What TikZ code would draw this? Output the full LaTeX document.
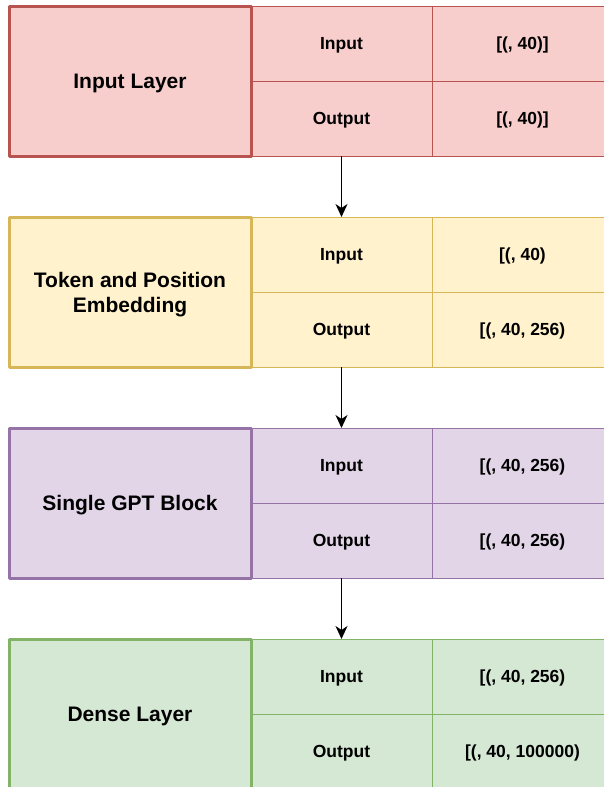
\documentclass[tikz,border=0pt]{standalone}
\usepackage{fontspec}
\setmainfont{Liberation Sans}
\usetikzlibrary{arrows.meta}
\definecolor{redfill}{HTML}{F8CECC}
\definecolor{redline}{HTML}{B85450}
\definecolor{yellowfill}{HTML}{FFF2CC}
\definecolor{yellowline}{HTML}{D6B656}
\definecolor{purplefill}{HTML}{E1D5E7}
\definecolor{purpleline}{HTML}{9673A6}
\definecolor{greenfill}{HTML}{D5E8D4}
\definecolor{greenline}{HTML}{82B366}
\tikzset{
	layer/.style={draw, line width=3pt, minimum width=242pt, minimum height=150pt, inner sep=0pt, outer sep=0pt, text depth=0pt, align=center, font=\bfseries\fontsize{21}{25}\selectfont},
	cell/.style={draw, line width=1pt, minimum width=181pt, minimum height=75pt, inner sep=0pt, outer sep=0pt, text depth=0pt, font=\bfseries\fontsize{17.5}{21}\selectfont},
	red/.style={fill=redfill, draw=redline},
	yellow/.style={fill=yellowfill, draw=yellowline},
	purple/.style={fill=purplefill, draw=purpleline},
	green/.style={fill=greenfill, draw=greenline},
	flow/.style={-{Stealth[length=13pt,width=12pt,inset=4pt]}, line width=1.6pt}
}
\begin{document}
\begin{tikzpicture}[x=1pt, y=-1pt, line join=round]
	\path[use as bounding box, clip] (0,0) rectangle (604,787);
	% input layer
	\node[cell, red] (ilIn) at (341.5,43.5) {Input};
	\node[cell, red] (ilInV) at (522.5,43.5) {[(, 40)]};
	\node[cell, red] (ilOut) at (341.5,118.5) {Output};
	\node[cell, red] (ilOutV) at (522.5,118.5) {[(, 40)]};
	\node[layer, red] (il) at (130,81) {Input Layer};
	% token and position embedding
	\node[cell, yellow] (tpIn) at (341.5,254.5) {Input};
	\node[cell, yellow] (tpInV) at (522.5,254.5) {[(, 40)};
	\node[cell, yellow] (tpOut) at (341.5,329.5) {Output};
	\node[cell, yellow] (tpOutV) at (522.5,329.5) {[(, 40, 256)};
	\node[layer, yellow] (tp) at (130,292) {Token and Position\\Embedding};
	% single gpt block
	\node[cell, purple] (gptIn) at (341.5,465.5) {Input};
	\node[cell, purple] (gptInV) at (522.5,465.5) {[(, 40, 256)};
	\node[cell, purple] (gptOut) at (341.5,540.5) {Output};
	\node[cell, purple] (gptOutV) at (522.5,540.5) {[(, 40, 256)};
	\node[layer, purple] (gpt) at (130,503) {Single GPT Block};
	% dense layer
	\node[cell, green] (dlIn) at (341.5,676.5) {Input};
	\node[cell, green] (dlInV) at (522.5,676.5) {[(, 40, 256)};
	\node[cell, green] (dlOut) at (341.5,751.5) {Output};
	\node[cell, green] (dlOutV) at (522.5,751.5) {[(, 40, 100000)};
	\node[layer, green] (dl) at (130,714) {Dense Layer};
	% arrows
	\draw[flow] (ilOut.south) -- (tpIn.north);
	\draw[flow] (tpOut.south) -- (gptIn.north);
	\draw[flow] (gptOut.south) -- (dlIn.north);
\end{tikzpicture}
\end{document}
